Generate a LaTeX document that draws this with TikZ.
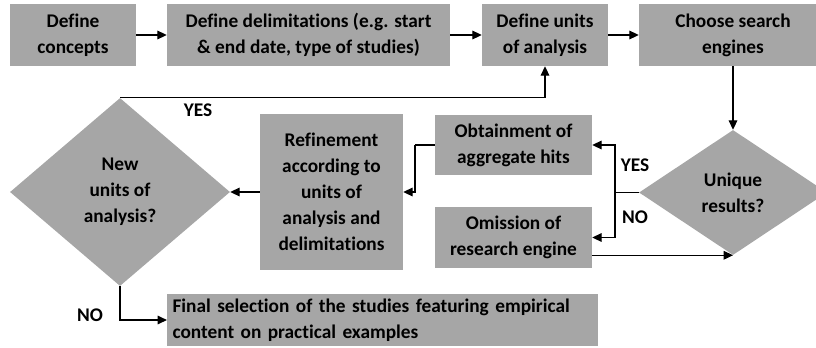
\documentclass[tikz,border=0pt]{standalone}
\usepackage{fontspec}
\setmainfont{Carlito}[Ligatures=NoCommon]
\usetikzlibrary{shapes.geometric,arrows.meta}

\begin{document}
\begin{tikzpicture}[
    x=0.75pt, y=-0.75pt,
    box/.style={rectangle,draw=none,fill=black!35,inner sep=2pt,align=center,
        font=\bfseries\fontsize{14.5}{19.5}\selectfont},
    decision/.style={diamond,draw=none,fill=black!35,inner sep=0pt,align=center,
        font=\bfseries\fontsize{14.5}{19.5}\selectfont},
    arr/.style={-{Triangle[length=7pt,width=6.5pt]},line width=0.8pt,black},
    link/.style={line width=0.8pt,black},
    loopline/.style={line width=0.8pt,black!70},
    lbl/.style={font=\bfseries\fontsize{14.5}{19.5}\selectfont,inner sep=0pt}
]
    \useasboundingbox (0,0) rectangle (816,347);
    \clip (0,0) rectangle (816,347);

    % Top row
    \node[box,minimum width=94.5pt,minimum height=46.5pt] (concepts) at (73,35) {Define\\concepts};
    \node[box,minimum width=212.25pt,minimum height=46.5pt] (delim) at (308.5,35) {Define delimitations (e.g. start\\\& end date, type of studies)};
    \node[box,minimum width=94.5pt,minimum height=46.5pt] (units) at (545,35) {Define units\\of analysis};
    \node[box,minimum width=141pt,minimum height=46.5pt] (engines) at (733,35) {Choose search\\engines};

    % Middle row
    \node[decision,minimum width=141pt,minimum height=93.75pt] (unique) at (733,192.5) {Unique\\results?};
    \node[box,minimum width=117.75pt,minimum height=45pt] (obtain) at (513.5,145) {Obtainment of\\aggregate hits};
    \node[box,minimum width=117.75pt,minimum height=45.75pt] (omission) at (513.5,237.5) {Omission of\\research engine};
    \node[box,minimum width=107.25pt,minimum height=117pt] (refine) at (331.5,192) {Refinement\\according to\\units of\\analysis and\\delimitations};
    \node[decision,minimum width=165pt,minimum height=141pt] (newunits) at (120,192) {New\\units of\\analysis?};

    % Bottom row
    \node[box,text width=315pt,align=left,inner xsep=4pt,minimum height=39pt] (final) at (382.5,320) {Final selection of the studies featuring empirical\\content on practical examples};

    \coordinate (split) at (615,192.5);
    \coordinate (turn) at (415,145);

    % Connectors
    \draw[arr] (concepts) -- (delim);
    \draw[arr] (delim) -- (units);
    \draw[arr] (units) -- (engines);
    \draw[arr] (engines) -- (unique);
    \draw[link] (unique.west) -- (split);
    \draw[arr] (split) |- (obtain.east);
    \draw[arr] (split) |- (omission.east);
    \draw[arr] (omission.east |- unique.south) -- (unique.south);
    \draw[link] (obtain.west) -- (turn);
    \draw[arr] (turn) |- (refine.east);
    \draw[arr] (refine) -- (newunits);
    \draw[loopline,arr] (newunits.north) -| (units.south);
    \draw[arr] (newunits.south) |- (final.west);

    % Labels
    \node[lbl] (yestop) at (198,110) {YES};
    \node[lbl] (yesright) at (635,165) {YES};
    \node[lbl] (noright) at (635,217) {NO};
    \node[lbl] (nobottom) at (90,315) {NO};
\end{tikzpicture}
\end{document}
